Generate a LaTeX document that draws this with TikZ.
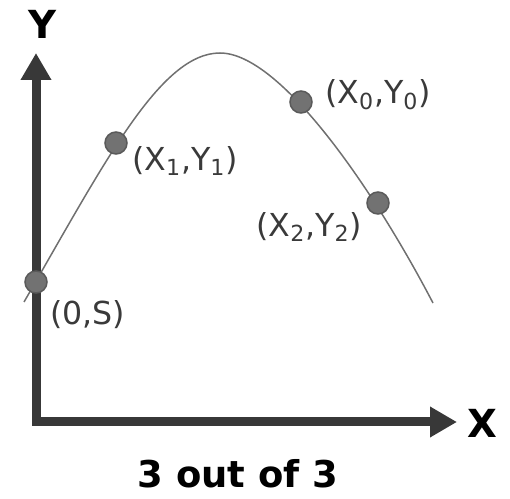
\documentclass[tikz,border=0pt]{standalone}
\usepackage{fontspec}
\setmainfont{DejaVu Sans}
\usepackage{xcolor}
\usepackage{tikz}
\usetikzlibrary{positioning, arrows.meta, calc}
\definecolor{axisgray}{HTML}{383838}
\definecolor{curvegray}{HTML}{707070}
\definecolor{dotfill}{HTML}{727272}
\definecolor{dotedge}{HTML}{5A5A5A}
\definecolor{labelgray}{HTML}{3A3A3A}
\tikzset{
  axisline/.style={
    draw=axisgray,
    line width=1.8mm,
    line join=miter,
    arrows={Triangle[length=5.4mm, width=5.8mm]-Triangle[length=5.4mm, width=5.8mm]}
  },
  curveline/.style={
    draw=curvegray,
    line width=0.3mm
  },
  curvedot/.style={
    circle,
    fill=dotfill,
    draw=dotedge,
    line width=0.3mm,
    minimum size=4.4mm,
    inner sep=0pt
  },
  pointlabel/.style={
    font=\fontsize{18}{20}\selectfont,
    text=labelgray,
    inner sep=0pt
  },
  axislabel/.style={
    font=\fontsize{22}{24}\selectfont\bfseries,
    inner sep=0pt
  },
  captionlabel/.style={
    font=\fontsize{21}{24}\selectfont\bfseries,
    inner sep=0pt
  }
}
\newcommand{\pt}[2]{(X\textsubscript{#1},Y\textsubscript{#2})}

\begin{document}
\begin{tikzpicture}[x=0.2mm, y=-0.2mm]
  \useasboundingbox (0,0) rectangle (510,499);
  % axes
  \coordinate (o) at (36,422);
  \coordinate (ytip) at (36,53);
  \coordinate (xtip) at (457,422);
  \draw[axisline] (ytip) -- (o) -- (xtip);
  \node[axislabel] (ylab) at (42,24) {Y};
  \node[axislabel] (xlab) at (482,423) {X};
  % curve and points
  \coordinate (cstart) at (24,302);
  \coordinate (ctop) at (220,53);
  \coordinate (cend) at (433,303);
  \draw[curveline] (cstart) .. controls (104,164) and (160,53) .. (ctop)
    .. controls (280,53) and (373,188) .. (cend);
  \node[curvedot] (s) at (36,282) {};
  \node[curvedot] (p1) at (116,143) {};
  \node[curvedot] (p0) at (301,102) {};
  \node[curvedot] (p2) at (378,203) {};
  \node[pointlabel, anchor=west] (ls) at ([shift={(14,21)}]s.south) {(0,S)};
  \node[pointlabel, anchor=west] (l1) at ([shift={(4,18)}]p1.east) {\pt{1}{1}};
  \node[pointlabel, anchor=west] (l0) at ([shift={(12,-7)}]p0.east) {\pt{0}{0}};
  \node[pointlabel, anchor=east] (l2) at ([shift={(-4,24)}]p2.west) {\pt{2}{2}};
  % caption
  \node[captionlabel, anchor=base] (caption) at (238,487) {3 out of 3};
\end{tikzpicture}
\end{document}
